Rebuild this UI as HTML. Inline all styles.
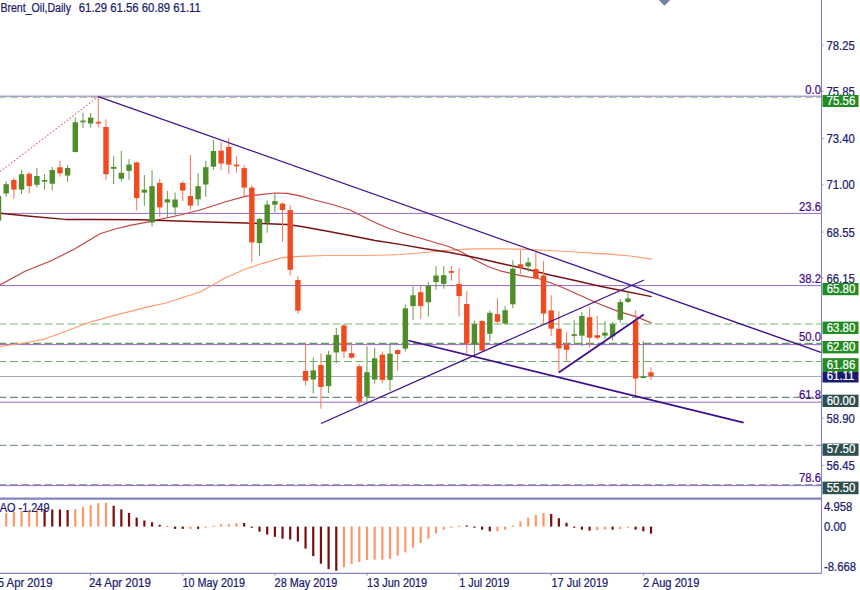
<!DOCTYPE html><html><head><meta charset="utf-8"><title>Brent_Oil Daily</title>
<style>html,body{margin:0;padding:0;background:#fff;overflow:hidden}body{width:860px;height:590px;position:relative;font-family:"Liberation Sans",sans-serif}svg{position:absolute;left:0;top:0;display:block}text{font-family:"Liberation Sans",sans-serif}</style></head><body>
<svg width="860" height="590" viewBox="0 0 860 590">
<rect width="860" height="590" fill="#fff"/>
<line x1="0" y1="96.2" x2="821.5" y2="96.2" stroke="#9668c6" stroke-width="1.0" opacity="1"/>
<line x1="0" y1="213.4" x2="821.5" y2="213.4" stroke="#9668c6" stroke-width="1.0" opacity="1"/>
<line x1="0" y1="285.6" x2="821.5" y2="285.6" stroke="#9668c6" stroke-width="1.0" opacity="1"/>
<line x1="0" y1="344.6" x2="821.5" y2="344.6" stroke="#9668c6" stroke-width="1.0" opacity="1"/>
<line x1="0" y1="402.2" x2="821.5" y2="402.2" stroke="#9668c6" stroke-width="1.0" opacity="1"/>
<line x1="0" y1="485.6" x2="821.5" y2="485.6" stroke="#9668c6" stroke-width="1.0" opacity="1"/>
<line x1="0" y1="97.3" x2="821.5" y2="97.3" stroke="#9fd09f" stroke-width="1.2" stroke-dasharray="8 3.52" stroke-dashoffset="1.6" opacity="1"/>
<line x1="0" y1="324.0" x2="821.5" y2="324.0" stroke="#b7dcb7" stroke-width="2.2" stroke-dasharray="8 3.52" stroke-dashoffset="1.6" opacity="1"/>
<line x1="0" y1="343.4" x2="821.5" y2="343.4" stroke="#5f9a5f" stroke-width="1.1" stroke-dasharray="8 3.52" stroke-dashoffset="1.6" opacity="1"/>
<line x1="0" y1="361.5" x2="821.5" y2="361.5" stroke="#6fb068" stroke-width="1.1" stroke-dasharray="8 3.52" stroke-dashoffset="1.6" opacity="1"/>
<line x1="0" y1="376.5" x2="821.5" y2="376.5" stroke="#a3adbd" stroke-width="1.1" opacity="1"/>
<line x1="0" y1="397.4" x2="821.5" y2="397.4" stroke="#718787" stroke-width="1.2" stroke-dasharray="8 3.52" stroke-dashoffset="1.6" opacity="1"/>
<line x1="0" y1="445.4" x2="821.5" y2="445.4" stroke="#84969a" stroke-width="1.3" stroke-dasharray="8 3.52" stroke-dashoffset="1.6" opacity="1"/>
<line x1="0" y1="484.5" x2="821.5" y2="484.5" stroke="#93a5a0" stroke-width="1.2" stroke-dasharray="8 3.52" stroke-dashoffset="1.6" opacity="1"/>
<polyline points="0,346.3 10,345 25,343 45,338.8 62.5,332.5 87.5,323 112.5,315.8 150,306.3 166.2,303 175,300 200,292 212.5,285 225,278 245,269.3 262.5,263.3 282.5,257.7 300,256.3 325,255.5 362.5,255.5 387.5,255 400,254.5 425,252.5 450,250 475,248.8 500,248.8 525,249.3 550,250.5 575,252 600,253.6 612.4,254.3 630,256 651.7,259.1" fill="none" stroke="#ff9a6e" stroke-width="1.2" stroke-linejoin="round" opacity="1"/>
<polyline points="0,285 25,271.3 50,261.3 75,248.8 100,233.8 115,229 130,225.3 150,221.6 180,215 200,210 225,202 245,196.3 262.5,194.3 275,193 287.5,193.3 300,195.8 312.5,199.5 332.5,204.5 350,210 362.5,216.3 375,222.5 387.5,228 400,232.3 425,239.5 450,247 462.5,252.5 475,260 487.5,266.3 500,270.8 512.5,273.8 525,276.3 540,279 550,282.5 562.5,287.5 575,293 587.5,298.8 600,304.3 617.6,311.1 635.1,316.4 651.7,323" fill="none" stroke="#c24444" stroke-width="1.2" stroke-linejoin="round" opacity="1"/>
<polyline points="0,213.3 30,216.2 65,219.4 98,219.4 140,219.8 200,221.8 245,223 287.5,224.5 300,226.3 325,230.8 350,235.5 375,240.5 400,244.4 425,248.8 450,252.5 475,257.5 500,263.3 525,268.8 550,275 575,280.5 600,286.3 621.1,290.5 651.7,296.6" fill="none" stroke="#7a1414" stroke-width="1.45" stroke-linejoin="round" opacity="1"/>
<line x1="-1.48" y1="196.1" x2="-1.48" y2="220.6" stroke="#6b9f4d" stroke-width="1.05"/>
<rect x="-4.18" y="196.1" width="5.4" height="24.50" fill="#4f8c2a"/>
<line x1="6.20" y1="181.2" x2="6.20" y2="196.7" stroke="#6b9f4d" stroke-width="1.05"/>
<rect x="3.50" y="184.2" width="5.4" height="9.30" fill="#4f8c2a"/>
<line x1="13.88" y1="178.0" x2="13.88" y2="198.8" stroke="#f37a5a" stroke-width="1.05"/>
<rect x="11.18" y="180.0" width="5.4" height="9.60" fill="#ef4a20"/>
<line x1="21.55" y1="170.0" x2="21.55" y2="194.0" stroke="#6b9f4d" stroke-width="1.05"/>
<rect x="18.85" y="174.2" width="5.4" height="15.40" fill="#4f8c2a"/>
<line x1="29.23" y1="172.3" x2="29.23" y2="193.5" stroke="#f37a5a" stroke-width="1.05"/>
<rect x="26.53" y="173.7" width="5.4" height="12.40" fill="#ef4a20"/>
<line x1="36.90" y1="168.0" x2="36.90" y2="187.5" stroke="#6b9f4d" stroke-width="1.05"/>
<rect x="34.20" y="176.0" width="5.4" height="8.80" fill="#4f8c2a"/>
<line x1="44.58" y1="174.2" x2="44.58" y2="189.8" stroke="#6b9f4d" stroke-width="1.05"/>
<rect x="41.88" y="180.0" width="5.4" height="1.70" fill="#4f8c2a"/>
<line x1="52.26" y1="166.9" x2="52.26" y2="190.2" stroke="#6b9f4d" stroke-width="1.05"/>
<rect x="49.56" y="170.0" width="5.4" height="13.70" fill="#4f8c2a"/>
<line x1="59.93" y1="160.8" x2="59.93" y2="176.8" stroke="#f37a5a" stroke-width="1.05"/>
<rect x="57.23" y="167.3" width="5.4" height="6.10" fill="#ef4a20"/>
<line x1="67.61" y1="165.0" x2="67.61" y2="181.9" stroke="#6b9f4d" stroke-width="1.05"/>
<rect x="64.91" y="168.0" width="5.4" height="7.50" fill="#4f8c2a"/>
<line x1="75.28" y1="117.6" x2="75.28" y2="152.5" stroke="#6b9f4d" stroke-width="1.05"/>
<rect x="72.58" y="122.3" width="5.4" height="29.70" fill="#4f8c2a"/>
<line x1="82.96" y1="113.0" x2="82.96" y2="127.9" stroke="#6b9f4d" stroke-width="1.05"/>
<rect x="80.26" y="120.6" width="5.4" height="1.70" fill="#4f8c2a"/>
<line x1="90.64" y1="113.0" x2="90.64" y2="127.5" stroke="#6b9f4d" stroke-width="1.05"/>
<rect x="87.94" y="117.6" width="5.4" height="5.90" fill="#4f8c2a"/>
<line x1="98.31" y1="96.6" x2="98.31" y2="127.5" stroke="#f37a5a" stroke-width="1.05"/>
<rect x="95.61" y="121.8" width="5.4" height="1.70" fill="#ef4a20"/>
<line x1="105.99" y1="119.3" x2="105.99" y2="179.8" stroke="#f37a5a" stroke-width="1.05"/>
<rect x="103.29" y="127.0" width="5.4" height="47.30" fill="#ef4a20"/>
<line x1="113.66" y1="156.0" x2="113.66" y2="183.9" stroke="#6b9f4d" stroke-width="1.05"/>
<rect x="110.96" y="166.9" width="5.4" height="1.90" fill="#4f8c2a"/>
<line x1="121.34" y1="150.8" x2="121.34" y2="181.6" stroke="#6b9f4d" stroke-width="1.05"/>
<rect x="118.64" y="172.8" width="5.4" height="5.90" fill="#4f8c2a"/>
<line x1="129.02" y1="159.0" x2="129.02" y2="179.8" stroke="#6b9f4d" stroke-width="1.05"/>
<rect x="126.32" y="164.6" width="5.4" height="6.20" fill="#4f8c2a"/>
<line x1="136.69" y1="161.6" x2="136.69" y2="210.6" stroke="#f37a5a" stroke-width="1.05"/>
<rect x="133.99" y="162.5" width="5.4" height="35.60" fill="#ef4a20"/>
<line x1="144.37" y1="174.9" x2="144.37" y2="205.7" stroke="#6b9f4d" stroke-width="1.05"/>
<rect x="141.67" y="189.7" width="5.4" height="2.90" fill="#4f8c2a"/>
<line x1="152.04" y1="170.2" x2="152.04" y2="226.6" stroke="#6b9f4d" stroke-width="1.05"/>
<rect x="149.34" y="186.2" width="5.4" height="36.30" fill="#4f8c2a"/>
<line x1="159.72" y1="178.5" x2="159.72" y2="216.8" stroke="#f37a5a" stroke-width="1.05"/>
<rect x="157.02" y="182.9" width="5.4" height="24.50" fill="#ef4a20"/>
<line x1="167.40" y1="191.1" x2="167.40" y2="217.3" stroke="#6b9f4d" stroke-width="1.05"/>
<rect x="164.70" y="199.3" width="5.4" height="3.20" fill="#4f8c2a"/>
<line x1="175.07" y1="192.5" x2="175.07" y2="215.0" stroke="#6b9f4d" stroke-width="1.05"/>
<rect x="172.37" y="199.5" width="5.4" height="7.90" fill="#4f8c2a"/>
<line x1="182.75" y1="181.0" x2="182.75" y2="201.2" stroke="#f37a5a" stroke-width="1.05"/>
<rect x="180.05" y="182.9" width="5.4" height="7.70" fill="#ef4a20"/>
<line x1="190.42" y1="155.0" x2="190.42" y2="209.8" stroke="#f37a5a" stroke-width="1.05"/>
<rect x="187.72" y="196.0" width="5.4" height="9.60" fill="#ef4a20"/>
<line x1="198.10" y1="173.1" x2="198.10" y2="206.0" stroke="#6b9f4d" stroke-width="1.05"/>
<rect x="195.40" y="186.2" width="5.4" height="13.10" fill="#4f8c2a"/>
<line x1="205.78" y1="161.1" x2="205.78" y2="196.7" stroke="#6b9f4d" stroke-width="1.05"/>
<rect x="203.08" y="167.2" width="5.4" height="17.30" fill="#4f8c2a"/>
<line x1="213.45" y1="140.1" x2="213.45" y2="169.8" stroke="#6b9f4d" stroke-width="1.05"/>
<rect x="210.75" y="151.0" width="5.4" height="15.70" fill="#4f8c2a"/>
<line x1="221.13" y1="141.9" x2="221.13" y2="169.8" stroke="#f37a5a" stroke-width="1.05"/>
<rect x="218.43" y="150.6" width="5.4" height="12.90" fill="#ef4a20"/>
<line x1="228.80" y1="138.2" x2="228.80" y2="173.7" stroke="#f37a5a" stroke-width="1.05"/>
<rect x="226.10" y="146.9" width="5.4" height="17.70" fill="#ef4a20"/>
<line x1="236.48" y1="156.2" x2="236.48" y2="172.8" stroke="#f37a5a" stroke-width="1.05"/>
<rect x="233.78" y="164.6" width="5.4" height="1.70" fill="#ef4a20"/>
<line x1="244.16" y1="164.9" x2="244.16" y2="196.4" stroke="#f37a5a" stroke-width="1.05"/>
<rect x="241.46" y="168.1" width="5.4" height="19.50" fill="#ef4a20"/>
<line x1="251.83" y1="185.5" x2="251.83" y2="262.0" stroke="#f37a5a" stroke-width="1.05"/>
<rect x="249.13" y="187.6" width="5.4" height="54.80" fill="#ef4a20"/>
<line x1="259.51" y1="218.0" x2="259.51" y2="255.9" stroke="#6b9f4d" stroke-width="1.05"/>
<rect x="256.81" y="218.9" width="5.4" height="24.20" fill="#4f8c2a"/>
<line x1="267.18" y1="200.4" x2="267.18" y2="232.8" stroke="#6b9f4d" stroke-width="1.05"/>
<rect x="264.48" y="204.5" width="5.4" height="18.30" fill="#4f8c2a"/>
<line x1="274.86" y1="193.7" x2="274.86" y2="212.3" stroke="#6b9f4d" stroke-width="1.05"/>
<rect x="272.16" y="201.1" width="5.4" height="3.60" fill="#4f8c2a"/>
<line x1="282.54" y1="202.5" x2="282.54" y2="241.9" stroke="#f37a5a" stroke-width="1.05"/>
<rect x="279.84" y="203.6" width="5.4" height="6.40" fill="#ef4a20"/>
<line x1="290.21" y1="205.2" x2="290.21" y2="275.4" stroke="#f37a5a" stroke-width="1.05"/>
<rect x="287.51" y="210.1" width="5.4" height="59.70" fill="#ef4a20"/>
<line x1="297.89" y1="276.2" x2="297.89" y2="313.7" stroke="#f37a5a" stroke-width="1.05"/>
<rect x="295.19" y="280.0" width="5.4" height="30.70" fill="#ef4a20"/>
<line x1="305.56" y1="342.4" x2="305.56" y2="385.6" stroke="#f37a5a" stroke-width="1.05"/>
<rect x="302.86" y="371.0" width="5.4" height="9.70" fill="#ef4a20"/>
<line x1="313.24" y1="357.4" x2="313.24" y2="393.5" stroke="#6b9f4d" stroke-width="1.05"/>
<rect x="310.54" y="370.4" width="5.4" height="9.10" fill="#4f8c2a"/>
<line x1="320.92" y1="353.6" x2="320.92" y2="408.7" stroke="#f37a5a" stroke-width="1.05"/>
<rect x="318.22" y="365.1" width="5.4" height="21.90" fill="#ef4a20"/>
<line x1="328.59" y1="350.7" x2="328.59" y2="393.0" stroke="#6b9f4d" stroke-width="1.05"/>
<rect x="325.89" y="354.7" width="5.4" height="31.50" fill="#4f8c2a"/>
<line x1="336.27" y1="328.1" x2="336.27" y2="363.3" stroke="#6b9f4d" stroke-width="1.05"/>
<rect x="333.57" y="335.0" width="5.4" height="17.40" fill="#4f8c2a"/>
<line x1="343.94" y1="324.1" x2="343.94" y2="357.7" stroke="#f37a5a" stroke-width="1.05"/>
<rect x="341.24" y="325.4" width="5.4" height="26.10" fill="#ef4a20"/>
<line x1="351.62" y1="342.2" x2="351.62" y2="358.8" stroke="#f37a5a" stroke-width="1.05"/>
<rect x="348.92" y="353.2" width="5.4" height="4.50" fill="#ef4a20"/>
<line x1="359.30" y1="364.3" x2="359.30" y2="405.7" stroke="#f37a5a" stroke-width="1.05"/>
<rect x="356.60" y="366.4" width="5.4" height="35.30" fill="#ef4a20"/>
<line x1="366.97" y1="346.3" x2="366.97" y2="402.2" stroke="#6b9f4d" stroke-width="1.05"/>
<rect x="364.27" y="372.2" width="5.4" height="24.40" fill="#4f8c2a"/>
<line x1="374.65" y1="347.7" x2="374.65" y2="383.5" stroke="#6b9f4d" stroke-width="1.05"/>
<rect x="371.95" y="358.3" width="5.4" height="21.20" fill="#4f8c2a"/>
<line x1="382.32" y1="351.5" x2="382.32" y2="383.5" stroke="#f37a5a" stroke-width="1.05"/>
<rect x="379.62" y="354.7" width="5.4" height="25.20" fill="#ef4a20"/>
<line x1="390.00" y1="343.1" x2="390.00" y2="391.2" stroke="#6b9f4d" stroke-width="1.05"/>
<rect x="387.30" y="353.7" width="5.4" height="26.20" fill="#4f8c2a"/>
<line x1="397.68" y1="349.2" x2="397.68" y2="370.8" stroke="#f37a5a" stroke-width="1.05"/>
<rect x="394.98" y="350.1" width="5.4" height="3.90" fill="#ef4a20"/>
<line x1="405.35" y1="304.6" x2="405.35" y2="351.5" stroke="#6b9f4d" stroke-width="1.05"/>
<rect x="402.65" y="308.4" width="5.4" height="40.20" fill="#4f8c2a"/>
<line x1="413.03" y1="286.5" x2="413.03" y2="320.1" stroke="#6b9f4d" stroke-width="1.05"/>
<rect x="410.33" y="295.3" width="5.4" height="10.80" fill="#4f8c2a"/>
<line x1="420.70" y1="286.1" x2="420.70" y2="319.1" stroke="#f37a5a" stroke-width="1.05"/>
<rect x="418.00" y="292.2" width="5.4" height="13.90" fill="#ef4a20"/>
<line x1="428.38" y1="282.1" x2="428.38" y2="316.5" stroke="#6b9f4d" stroke-width="1.05"/>
<rect x="425.68" y="285.6" width="5.4" height="16.60" fill="#4f8c2a"/>
<line x1="436.06" y1="265.9" x2="436.06" y2="289.7" stroke="#6b9f4d" stroke-width="1.05"/>
<rect x="433.36" y="275.5" width="5.4" height="6.60" fill="#4f8c2a"/>
<line x1="443.73" y1="266.1" x2="443.73" y2="288.8" stroke="#6b9f4d" stroke-width="1.05"/>
<rect x="441.03" y="275.2" width="5.4" height="8.70" fill="#4f8c2a"/>
<line x1="451.41" y1="265.9" x2="451.41" y2="280.7" stroke="#f37a5a" stroke-width="1.05"/>
<rect x="448.71" y="271.1" width="5.4" height="1.70" fill="#ef4a20"/>
<line x1="459.08" y1="267.7" x2="459.08" y2="316.5" stroke="#f37a5a" stroke-width="1.05"/>
<rect x="456.38" y="283.9" width="5.4" height="12.20" fill="#ef4a20"/>
<line x1="466.76" y1="291.2" x2="466.76" y2="353.8" stroke="#f37a5a" stroke-width="1.05"/>
<rect x="464.06" y="304.0" width="5.4" height="39.70" fill="#ef4a20"/>
<line x1="474.44" y1="320.6" x2="474.44" y2="356.7" stroke="#6b9f4d" stroke-width="1.05"/>
<rect x="471.74" y="324.1" width="5.4" height="20.40" fill="#4f8c2a"/>
<line x1="482.11" y1="319.9" x2="482.11" y2="351.5" stroke="#f37a5a" stroke-width="1.05"/>
<rect x="479.41" y="321.0" width="5.4" height="29.60" fill="#ef4a20"/>
<line x1="489.79" y1="310.4" x2="489.79" y2="341.0" stroke="#6b9f4d" stroke-width="1.05"/>
<rect x="487.09" y="312.8" width="5.4" height="21.00" fill="#4f8c2a"/>
<line x1="497.46" y1="298.2" x2="497.46" y2="324.5" stroke="#f37a5a" stroke-width="1.05"/>
<rect x="494.76" y="314.2" width="5.4" height="7.60" fill="#ef4a20"/>
<line x1="505.14" y1="306.1" x2="505.14" y2="324.7" stroke="#6b9f4d" stroke-width="1.05"/>
<rect x="502.44" y="310.2" width="5.4" height="13.40" fill="#4f8c2a"/>
<line x1="512.82" y1="260.3" x2="512.82" y2="308.0" stroke="#6b9f4d" stroke-width="1.05"/>
<rect x="510.12" y="268.7" width="5.4" height="35.60" fill="#4f8c2a"/>
<line x1="520.49" y1="250.2" x2="520.49" y2="273.8" stroke="#f37a5a" stroke-width="1.05"/>
<rect x="517.79" y="264.3" width="5.4" height="3.00" fill="#ef4a20"/>
<line x1="528.17" y1="257.2" x2="528.17" y2="271.7" stroke="#6b9f4d" stroke-width="1.05"/>
<rect x="525.47" y="262.4" width="5.4" height="4.00" fill="#4f8c2a"/>
<line x1="535.84" y1="252.5" x2="535.84" y2="279.2" stroke="#f37a5a" stroke-width="1.05"/>
<rect x="533.14" y="269.0" width="5.4" height="9.30" fill="#ef4a20"/>
<line x1="543.52" y1="261.2" x2="543.52" y2="323.5" stroke="#f37a5a" stroke-width="1.05"/>
<rect x="540.82" y="275.5" width="5.4" height="38.00" fill="#ef4a20"/>
<line x1="551.20" y1="295.2" x2="551.20" y2="335.8" stroke="#f37a5a" stroke-width="1.05"/>
<rect x="548.50" y="310.4" width="5.4" height="18.30" fill="#ef4a20"/>
<line x1="558.87" y1="311.3" x2="558.87" y2="372.5" stroke="#f37a5a" stroke-width="1.05"/>
<rect x="556.17" y="328.8" width="5.4" height="19.60" fill="#ef4a20"/>
<line x1="566.55" y1="332.2" x2="566.55" y2="361.3" stroke="#f37a5a" stroke-width="1.05"/>
<rect x="563.85" y="344.4" width="5.4" height="5.40" fill="#ef4a20"/>
<line x1="574.22" y1="320.2" x2="574.22" y2="344.3" stroke="#6b9f4d" stroke-width="1.05"/>
<rect x="571.52" y="334.2" width="5.4" height="1.70" fill="#4f8c2a"/>
<line x1="581.90" y1="312.0" x2="581.90" y2="346.0" stroke="#6b9f4d" stroke-width="1.05"/>
<rect x="579.20" y="316.0" width="5.4" height="19.60" fill="#4f8c2a"/>
<line x1="589.58" y1="307.3" x2="589.58" y2="347.8" stroke="#f37a5a" stroke-width="1.05"/>
<rect x="586.88" y="317.2" width="5.4" height="20.50" fill="#ef4a20"/>
<line x1="597.25" y1="316.0" x2="597.25" y2="339.6" stroke="#f37a5a" stroke-width="1.05"/>
<rect x="594.55" y="335.2" width="5.4" height="2.60" fill="#ef4a20"/>
<line x1="604.93" y1="321.2" x2="604.93" y2="339.0" stroke="#6b9f4d" stroke-width="1.05"/>
<rect x="602.23" y="332.6" width="5.4" height="3.00" fill="#4f8c2a"/>
<line x1="612.60" y1="322.1" x2="612.60" y2="340.4" stroke="#6b9f4d" stroke-width="1.05"/>
<rect x="609.90" y="324.2" width="5.4" height="12.20" fill="#4f8c2a"/>
<line x1="620.28" y1="298.9" x2="620.28" y2="322.5" stroke="#6b9f4d" stroke-width="1.05"/>
<rect x="617.58" y="302.0" width="5.4" height="17.80" fill="#4f8c2a"/>
<line x1="627.96" y1="291.9" x2="627.96" y2="302.9" stroke="#6b9f4d" stroke-width="1.05"/>
<rect x="625.26" y="298.4" width="5.4" height="3.50" fill="#4f8c2a"/>
<line x1="635.63" y1="310.2" x2="635.63" y2="396.4" stroke="#f37a5a" stroke-width="1.05"/>
<rect x="632.93" y="320.4" width="5.4" height="58.10" fill="#ef4a20"/>
<line x1="643.31" y1="341.0" x2="643.31" y2="378.0" stroke="#6b9f4d" stroke-width="1.05"/>
<rect x="640.61" y="376.3" width="5.4" height="1.70" fill="#4f8c2a"/>
<line x1="650.98" y1="367.2" x2="650.98" y2="380.1" stroke="#f37a5a" stroke-width="1.05"/>
<rect x="648.28" y="372.3" width="5.4" height="4.00" fill="#ef4a20"/>
<line x1="0" y1="171.7" x2="98.3" y2="96.6" stroke="#f0566a" stroke-width="1.05" stroke-dasharray="1.6 1.9"/>
<line x1="98.3" y1="96.6" x2="821" y2="352.4" stroke="#3f0f8c" stroke-width="1.25" stroke-linecap="butt"/>
<line x1="321" y1="423.5" x2="644" y2="280" stroke="#3f0f8c" stroke-width="1.25" stroke-linecap="butt"/>
<line x1="408.3" y1="340.5" x2="743.6" y2="422.7" stroke="#3f0f8c" stroke-width="1.75" stroke-linecap="butt"/>
<line x1="558.8" y1="372.5" x2="643.8" y2="314.6" stroke="#3f0f8c" stroke-width="1.8" stroke-linecap="butt"/>
<polygon points="658.8,0 670.2,0 664.5,5.8" fill="#6f849c"/>
<rect x="5.10" y="513.00" width="2.2" height="13.60" fill="#ff9669"/>
<rect x="12.78" y="512.10" width="2.2" height="14.50" fill="#ff9669"/>
<rect x="20.45" y="511.10" width="2.2" height="15.50" fill="#ff9669"/>
<rect x="28.13" y="509.70" width="2.2" height="16.90" fill="#ff9669"/>
<rect x="35.80" y="508.40" width="2.2" height="18.20" fill="#ff9669"/>
<rect x="43.48" y="509.10" width="2.2" height="17.50" fill="#7a0d0d"/>
<rect x="51.16" y="509.50" width="2.2" height="17.10" fill="#7a0d0d"/>
<rect x="58.83" y="509.50" width="2.2" height="17.10" fill="#7a0d0d"/>
<rect x="66.51" y="510.00" width="2.2" height="16.60" fill="#7a0d0d"/>
<rect x="74.18" y="509.10" width="2.2" height="17.50" fill="#ff9669"/>
<rect x="81.86" y="507.10" width="2.2" height="19.50" fill="#ff9669"/>
<rect x="89.54" y="505.20" width="2.2" height="21.40" fill="#ff9669"/>
<rect x="97.21" y="503.20" width="2.2" height="23.40" fill="#ff9669"/>
<rect x="104.89" y="502.80" width="2.2" height="23.80" fill="#ff9669"/>
<rect x="112.56" y="505.80" width="2.2" height="20.80" fill="#7a0d0d"/>
<rect x="120.24" y="509.40" width="2.2" height="17.20" fill="#7a0d0d"/>
<rect x="127.92" y="513.00" width="2.2" height="13.60" fill="#7a0d0d"/>
<rect x="135.59" y="517.60" width="2.2" height="9.00" fill="#7a0d0d"/>
<rect x="143.27" y="520.50" width="2.2" height="6.10" fill="#7a0d0d"/>
<rect x="150.94" y="522.20" width="2.2" height="4.40" fill="#7a0d0d"/>
<rect x="158.62" y="524.80" width="2.2" height="1.80" fill="#7a0d0d"/>
<rect x="166.30" y="525.80" width="2.2" height="1.20" fill="#ff9669"/>
<rect x="173.97" y="526.60" width="2.2" height="2.30" fill="#7a0d0d"/>
<rect x="181.65" y="526.60" width="2.2" height="2.30" fill="#7a0d0d"/>
<rect x="189.32" y="526.60" width="2.2" height="2.30" fill="#ff9669"/>
<rect x="197.00" y="526.60" width="2.2" height="2.30" fill="#7a0d0d"/>
<rect x="204.68" y="526.60" width="2.2" height="1.20" fill="#ff9669"/>
<rect x="212.35" y="525.70" width="2.2" height="1.20" fill="#ff9669"/>
<rect x="220.03" y="524.10" width="2.2" height="2.50" fill="#ff9669"/>
<rect x="227.70" y="524.10" width="2.2" height="2.50" fill="#ff9669"/>
<rect x="235.38" y="523.00" width="2.2" height="3.60" fill="#ff9669"/>
<rect x="243.06" y="523.00" width="2.2" height="3.60" fill="#7a0d0d"/>
<rect x="250.73" y="526.60" width="2.2" height="1.20" fill="#7a0d0d"/>
<rect x="258.41" y="526.60" width="2.2" height="5.10" fill="#7a0d0d"/>
<rect x="266.08" y="526.60" width="2.2" height="7.90" fill="#7a0d0d"/>
<rect x="273.76" y="526.60" width="2.2" height="10.20" fill="#7a0d0d"/>
<rect x="281.44" y="526.60" width="2.2" height="12.10" fill="#7a0d0d"/>
<rect x="289.11" y="526.60" width="2.2" height="12.90" fill="#7a0d0d"/>
<rect x="296.79" y="526.60" width="2.2" height="14.90" fill="#7a0d0d"/>
<rect x="304.46" y="526.60" width="2.2" height="22.00" fill="#7a0d0d"/>
<rect x="312.14" y="526.60" width="2.2" height="29.50" fill="#7a0d0d"/>
<rect x="319.82" y="526.60" width="2.2" height="37.10" fill="#7a0d0d"/>
<rect x="327.49" y="526.60" width="2.2" height="42.50" fill="#7a0d0d"/>
<rect x="335.17" y="526.60" width="2.2" height="44.10" fill="#7a0d0d"/>
<rect x="342.84" y="526.60" width="2.2" height="40.60" fill="#ff9669"/>
<rect x="350.52" y="526.60" width="2.2" height="37.30" fill="#ff9669"/>
<rect x="358.20" y="526.60" width="2.2" height="35.40" fill="#ff9669"/>
<rect x="365.87" y="526.60" width="2.2" height="33.40" fill="#ff9669"/>
<rect x="373.55" y="526.60" width="2.2" height="33.00" fill="#ff9669"/>
<rect x="381.22" y="526.60" width="2.2" height="33.00" fill="#ff9669"/>
<rect x="388.90" y="526.60" width="2.2" height="32.10" fill="#ff9669"/>
<rect x="396.58" y="526.60" width="2.2" height="29.10" fill="#ff9669"/>
<rect x="404.25" y="526.60" width="2.2" height="25.80" fill="#ff9669"/>
<rect x="411.93" y="526.60" width="2.2" height="21.00" fill="#ff9669"/>
<rect x="419.60" y="526.60" width="2.2" height="16.40" fill="#ff9669"/>
<rect x="427.28" y="526.60" width="2.2" height="12.10" fill="#ff9669"/>
<rect x="434.96" y="526.60" width="2.2" height="6.90" fill="#ff9669"/>
<rect x="442.63" y="526.60" width="2.2" height="3.10" fill="#ff9669"/>
<rect x="450.31" y="526.60" width="2.2" height="1.20" fill="#ff9669"/>
<rect x="457.98" y="525.70" width="2.2" height="1.20" fill="#ff9669"/>
<rect x="465.66" y="525.40" width="2.2" height="1.20" fill="#7a0d0d"/>
<rect x="473.34" y="526.60" width="2.2" height="1.20" fill="#7a0d0d"/>
<rect x="481.01" y="526.60" width="2.2" height="3.10" fill="#7a0d0d"/>
<rect x="488.69" y="526.60" width="2.2" height="4.70" fill="#7a0d0d"/>
<rect x="496.36" y="526.60" width="2.2" height="4.70" fill="#ff9669"/>
<rect x="504.04" y="526.60" width="2.2" height="3.10" fill="#ff9669"/>
<rect x="511.72" y="525.70" width="2.2" height="1.20" fill="#ff9669"/>
<rect x="519.39" y="521.50" width="2.2" height="5.10" fill="#ff9669"/>
<rect x="527.07" y="517.80" width="2.2" height="8.80" fill="#ff9669"/>
<rect x="534.74" y="515.00" width="2.2" height="11.60" fill="#ff9669"/>
<rect x="542.42" y="513.00" width="2.2" height="13.60" fill="#ff9669"/>
<rect x="550.10" y="513.90" width="2.2" height="12.70" fill="#7a0d0d"/>
<rect x="557.77" y="518.20" width="2.2" height="8.40" fill="#7a0d0d"/>
<rect x="565.45" y="522.80" width="2.2" height="3.80" fill="#7a0d0d"/>
<rect x="573.12" y="526.60" width="2.2" height="1.20" fill="#7a0d0d"/>
<rect x="580.80" y="526.60" width="2.2" height="3.10" fill="#7a0d0d"/>
<rect x="588.48" y="526.60" width="2.2" height="4.00" fill="#7a0d0d"/>
<rect x="596.15" y="526.60" width="2.2" height="3.60" fill="#ff9669"/>
<rect x="603.83" y="526.60" width="2.2" height="2.90" fill="#ff9669"/>
<rect x="611.50" y="526.60" width="2.2" height="3.10" fill="#7a0d0d"/>
<rect x="619.18" y="526.60" width="2.2" height="2.40" fill="#ff9669"/>
<rect x="626.86" y="526.60" width="2.2" height="1.20" fill="#ff9669"/>
<rect x="634.53" y="526.60" width="2.2" height="3.10" fill="#7a0d0d"/>
<rect x="642.21" y="526.60" width="2.2" height="4.70" fill="#7a0d0d"/>
<rect x="649.88" y="526.60" width="2.2" height="7.00" fill="#7a0d0d"/>
<line x1="821.5" y1="0" x2="821.5" y2="573.5" stroke="#8383c2" stroke-width="1.1"/>
<line x1="0" y1="498.6" x2="821.5" y2="498.6" stroke="#8383c2" stroke-width="2.1"/>
<line x1="0" y1="573.3" x2="821.5" y2="573.3" stroke="#8383c2" stroke-width="1.3"/>
<line x1="821.5" y1="45.099999999999994" x2="823.5" y2="45.099999999999994" stroke="#8383c2" stroke-width="1" opacity="0.8"/>
<text transform="translate(826.5,49.599999999999994) scale(1,1.05)" font-size="11.3" fill="#1b1b6f" stroke="#1b1b6f" stroke-width="0.22" text-anchor="start">78.25</text>
<line x1="821.5" y1="91.39999999999999" x2="823.5" y2="91.39999999999999" stroke="#8383c2" stroke-width="1" opacity="0.8"/>
<text transform="translate(826.5,95.89999999999999) scale(1,1.05)" font-size="11.3" fill="#1b1b6f" stroke="#1b1b6f" stroke-width="0.22" text-anchor="start">75.85</text>
<line x1="821.5" y1="138.60000000000002" x2="823.5" y2="138.60000000000002" stroke="#8383c2" stroke-width="1" opacity="0.8"/>
<text transform="translate(826.5,143.10000000000002) scale(1,1.05)" font-size="11.3" fill="#1b1b6f" stroke="#1b1b6f" stroke-width="0.22" text-anchor="start">73.40</text>
<line x1="821.5" y1="184.9" x2="823.5" y2="184.9" stroke="#8383c2" stroke-width="1" opacity="0.8"/>
<text transform="translate(826.5,189.4) scale(1,1.05)" font-size="11.3" fill="#1b1b6f" stroke="#1b1b6f" stroke-width="0.22" text-anchor="start">71.00</text>
<line x1="821.5" y1="232.10000000000002" x2="823.5" y2="232.10000000000002" stroke="#8383c2" stroke-width="1" opacity="0.8"/>
<text transform="translate(826.5,236.60000000000002) scale(1,1.05)" font-size="11.3" fill="#1b1b6f" stroke="#1b1b6f" stroke-width="0.22" text-anchor="start">68.55</text>
<line x1="821.5" y1="278.3" x2="823.5" y2="278.3" stroke="#8383c2" stroke-width="1" opacity="0.8"/>
<text transform="translate(826.5,282.8) scale(1,1.05)" font-size="11.3" fill="#1b1b6f" stroke="#1b1b6f" stroke-width="0.22" text-anchor="start">66.15</text>
<line x1="821.5" y1="418.1" x2="823.5" y2="418.1" stroke="#8383c2" stroke-width="1" opacity="0.8"/>
<text transform="translate(826.5,422.6) scale(1,1.05)" font-size="11.3" fill="#1b1b6f" stroke="#1b1b6f" stroke-width="0.22" text-anchor="start">58.90</text>
<line x1="821.5" y1="465.3" x2="823.5" y2="465.3" stroke="#8383c2" stroke-width="1" opacity="0.8"/>
<text transform="translate(826.5,469.8) scale(1,1.05)" font-size="11.3" fill="#1b1b6f" stroke="#1b1b6f" stroke-width="0.22" text-anchor="start">56.45</text>
<text transform="translate(824,511) scale(1,1.05)" font-size="11.3" fill="#1b1b6f" stroke="#1b1b6f" stroke-width="0.22" text-anchor="start">4.958</text>
<text transform="translate(824,530.8) scale(1,1.05)" font-size="11.3" fill="#1b1b6f" stroke="#1b1b6f" stroke-width="0.22" text-anchor="start">0.00</text>
<text transform="translate(824,570.9) scale(1,1.05)" font-size="11.3" fill="#1b1b6f" stroke="#1b1b6f" stroke-width="0.22" text-anchor="start">-8.668</text>
<rect x="822.5" y="95" width="36" height="12.0" fill="#228b22"/>
<text transform="translate(826.7,104.5) scale(1,1.05)" font-size="11.45" fill="#fff" stroke="#fff" stroke-width="0.22" text-anchor="start">75.56</text>
<rect x="822.5" y="283" width="36" height="12.2" fill="#228b22"/>
<text transform="translate(826.7,292.7) scale(1,1.05)" font-size="11.45" fill="#fff" stroke="#fff" stroke-width="0.22" text-anchor="start">65.80</text>
<rect x="822.5" y="321.6" width="36" height="12.4" fill="#228b22"/>
<text transform="translate(826.7,331.5) scale(1,1.05)" font-size="11.45" fill="#fff" stroke="#fff" stroke-width="0.22" text-anchor="start">63.80</text>
<rect x="822.5" y="341" width="36" height="12.4" fill="#228b22"/>
<text transform="translate(826.7,350.9) scale(1,1.05)" font-size="11.45" fill="#fff" stroke="#fff" stroke-width="0.22" text-anchor="start">62.80</text>
<rect x="822.5" y="358.2" width="36" height="13.7" fill="#228b22"/>
<text transform="translate(826.7,369.4) scale(1,1.05)" font-size="11.45" fill="#fff" stroke="#fff" stroke-width="0.22" text-anchor="start">61.86</text>
<rect x="822.5" y="371.9" width="36" height="10.6" fill="#1a1a70"/>
<text transform="translate(826.7,380.0) scale(1,1.05)" font-size="11.45" fill="#fff" stroke="#fff" stroke-width="0.22" text-anchor="start">61.11</text>
<rect x="822.5" y="394.7" width="36" height="12.3" fill="#2f4f4f"/>
<text transform="translate(826.7,404.5) scale(1,1.05)" font-size="11.45" fill="#fff" stroke="#fff" stroke-width="0.22" text-anchor="start">60.00</text>
<rect x="822.5" y="443.5" width="36" height="12.3" fill="#2f4f4f"/>
<text transform="translate(826.7,453.3) scale(1,1.05)" font-size="11.45" fill="#fff" stroke="#fff" stroke-width="0.22" text-anchor="start">57.50</text>
<rect x="822.5" y="481.6" width="36" height="12.6" fill="#2f4f4f"/>
<text transform="translate(826.7,491.7) scale(1,1.05)" font-size="11.45" fill="#fff" stroke="#fff" stroke-width="0.22" text-anchor="start">55.50</text>
<text transform="translate(821,94.0) scale(1,1.05)" font-size="11.3" fill="#4b0a86" stroke="#4b0a86" stroke-width="0.22" text-anchor="end">0.0</text>
<text transform="translate(821,210.5) scale(1,1.05)" font-size="11.3" fill="#4b0a86" stroke="#4b0a86" stroke-width="0.22" text-anchor="end">23.6</text>
<text transform="translate(821,282.6) scale(1,1.05)" font-size="11.3" fill="#4b0a86" stroke="#4b0a86" stroke-width="0.22" text-anchor="end">38.2</text>
<text transform="translate(821,341.4) scale(1,1.05)" font-size="11.3" fill="#4b0a86" stroke="#4b0a86" stroke-width="0.22" text-anchor="end">50.0</text>
<text transform="translate(821,399.2) scale(1,1.05)" font-size="11.3" fill="#4b0a86" stroke="#4b0a86" stroke-width="0.22" text-anchor="end">61.8</text>
<text transform="translate(821,482.2) scale(1,1.05)" font-size="11.3" fill="#4b0a86" stroke="#4b0a86" stroke-width="0.22" text-anchor="end">78.6</text>
<text transform="translate(0.4,11.5) scale(1,1.05)" font-size="11.3" fill="#1b1b6f" stroke="#1b1b6f" stroke-width="0.22" text-anchor="start" textLength="70.6" lengthAdjust="spacingAndGlyphs">Brent_Oil,Daily</text>
<text transform="translate(78.8,11.5) scale(1,1.05)" font-size="11.3" fill="#1b1b6f" stroke="#1b1b6f" stroke-width="0.22" text-anchor="start" textLength="122" lengthAdjust="spacingAndGlyphs">61.29 61.56 60.89 61.11</text>
<text transform="translate(-0.3,511.7) scale(1,1.05)" font-size="11.3" fill="#1b1b6f" stroke="#1b1b6f" stroke-width="0.22" text-anchor="start" textLength="49.8" lengthAdjust="spacingAndGlyphs">AO -1.249</text>
<line x1="-1.48" y1="573.3" x2="-1.48" y2="575.6" stroke="#8383c2" stroke-width="1"/>
<text transform="translate(-2.2,587) scale(1,1.05)" font-size="11.3" fill="#1b1b6f" stroke="#1b1b6f" stroke-width="0.22" text-anchor="start">5 Apr 2019</text>
<line x1="90.64" y1="573.3" x2="90.64" y2="575.6" stroke="#8383c2" stroke-width="1"/>
<text transform="translate(89.0,587) scale(1,1.05)" font-size="11.3" fill="#1b1b6f" stroke="#1b1b6f" stroke-width="0.22" text-anchor="start" textLength="61.8" lengthAdjust="spacingAndGlyphs">24 Apr 2019</text>
<line x1="182.75" y1="573.3" x2="182.75" y2="575.6" stroke="#8383c2" stroke-width="1"/>
<text transform="translate(182.6,587) scale(1,1.05)" font-size="11.3" fill="#1b1b6f" stroke="#1b1b6f" stroke-width="0.22" text-anchor="start" textLength="62.3" lengthAdjust="spacingAndGlyphs">10 May 2019</text>
<line x1="274.86" y1="573.3" x2="274.86" y2="575.6" stroke="#8383c2" stroke-width="1"/>
<text transform="translate(274.6,587) scale(1,1.05)" font-size="11.3" fill="#1b1b6f" stroke="#1b1b6f" stroke-width="0.22" text-anchor="start" textLength="62.8" lengthAdjust="spacingAndGlyphs">28 May 2019</text>
<line x1="366.97" y1="573.3" x2="366.97" y2="575.6" stroke="#8383c2" stroke-width="1"/>
<text transform="translate(367.1,587) scale(1,1.05)" font-size="11.3" fill="#1b1b6f" stroke="#1b1b6f" stroke-width="0.22" text-anchor="start" textLength="60.1" lengthAdjust="spacingAndGlyphs">13 Jun 2019</text>
<line x1="459.08" y1="573.3" x2="459.08" y2="575.6" stroke="#8383c2" stroke-width="1"/>
<text transform="translate(459.2,587) scale(1,1.05)" font-size="11.3" fill="#1b1b6f" stroke="#1b1b6f" stroke-width="0.22" text-anchor="start" textLength="50.2" lengthAdjust="spacingAndGlyphs">1 Jul 2019</text>
<line x1="551.20" y1="573.3" x2="551.20" y2="575.6" stroke="#8383c2" stroke-width="1"/>
<text transform="translate(551.5,587) scale(1,1.05)" font-size="11.3" fill="#1b1b6f" stroke="#1b1b6f" stroke-width="0.22" text-anchor="start" textLength="56.6" lengthAdjust="spacingAndGlyphs">17 Jul 2019</text>
<line x1="643.31" y1="573.3" x2="643.31" y2="575.6" stroke="#8383c2" stroke-width="1"/>
<text transform="translate(643.1,587) scale(1,1.05)" font-size="11.3" fill="#1b1b6f" stroke="#1b1b6f" stroke-width="0.22" text-anchor="start" textLength="56.3" lengthAdjust="spacingAndGlyphs">2 Aug 2019</text>
</svg></body></html>
